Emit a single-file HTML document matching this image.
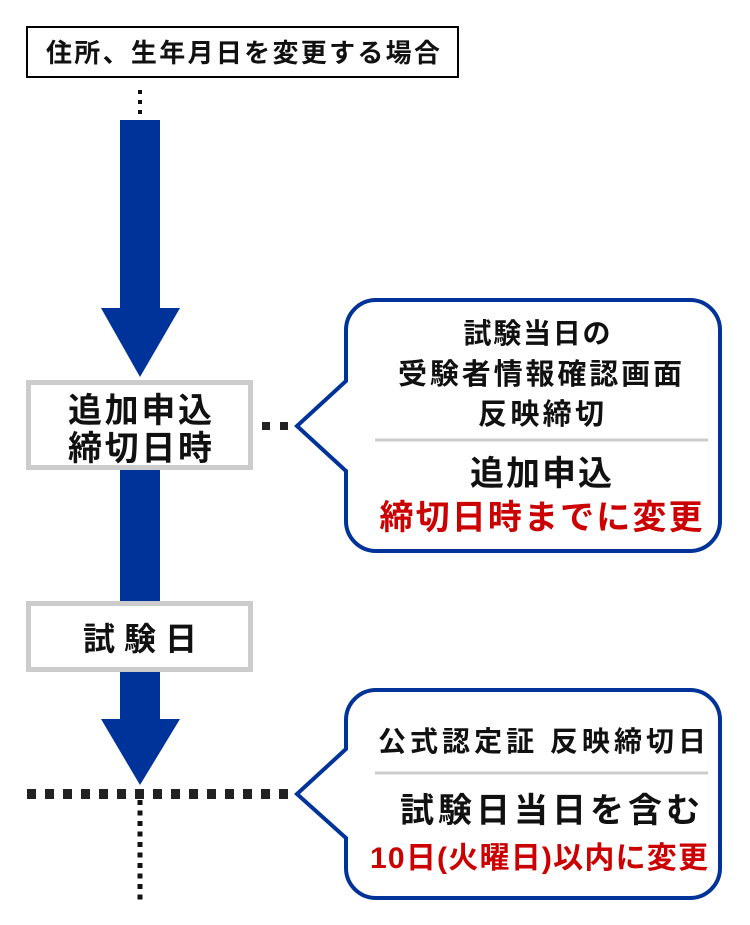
<!DOCTYPE html>
<html><head><meta charset="utf-8"><style>
html,body{margin:0;padding:0;background:#fff}
svg{display:block}
text{font-family:"Liberation Sans","Noto Sans CJK JP",sans-serif;font-weight:bold;text-anchor:middle}
</style></head><body>
<svg width="750" height="925" viewBox="0 0 750 925">
<rect x="27" y="27" width="431" height="50" fill="#fff" stroke="#000" stroke-width="2"/>
<text x="243" y="62" font-size="26" fill="#111" textLength="394" lengthAdjust="spacing">住所、生年月日を変更する場合</text>
<line x1="140" y1="90" x2="140" y2="118" stroke="#111" stroke-width="4" stroke-dasharray="4,6"/>
<polygon points="120,120 160,120 160,308 180,308 140,377 101,308 120,308" fill="#003399"/>
<rect x="120" y="468" width="40" height="135" fill="#003399"/>
<polygon points="120,670 160,670 160,719 180,719 140,785 101,719 120,719" fill="#003399"/>
<rect x="28.5" y="382.5" width="222" height="85" fill="#fff" stroke="#ccc" stroke-width="5"/>
<text x="140" y="422" font-size="34" fill="#111" textLength="144" lengthAdjust="spacing">追加申込</text>
<text x="140" y="460" font-size="34" fill="#111" textLength="144" lengthAdjust="spacing">締切日時</text>
<rect x="28.5" y="603.5" width="222" height="66" fill="#fff" stroke="#ccc" stroke-width="5"/>
<text x="140" y="650" font-size="32" fill="#111" textLength="114" lengthAdjust="spacing">試験日</text>
<line x1="262" y1="426" x2="292" y2="426" stroke="#222" stroke-width="8" stroke-dasharray="8,10"/>
<line x1="27" y1="794" x2="292" y2="794" stroke="#222" stroke-width="10" stroke-dasharray="9,9"/>
<line x1="140" y1="800" x2="140" y2="900" stroke="#111" stroke-width="5" stroke-dasharray="5,5.5"/>
<path d="M376,300 H690 A30,30 0 0 1 720,330 V521 A30,30 0 0 1 690,551 H376 A30,30 0 0 1 346,521 V471 L297,426 L346,381 V330 A30,30 0 0 1 376,300 Z" fill="#fff" stroke="#003399" stroke-width="4"/>
<text x="537" y="343" font-size="28" fill="#111" textLength="147" lengthAdjust="spacing">試験当日の</text>
<text x="540" y="384" font-size="29" fill="#111" textLength="284" lengthAdjust="spacing">受験者情報確認画面</text>
<text x="541" y="424" font-size="29" fill="#111" textLength="126" lengthAdjust="spacing">反映締切</text>
<line x1="375" y1="440" x2="708" y2="440" stroke="#ccc" stroke-width="3"/>
<text x="541" y="485" font-size="34" fill="#111" textLength="142" lengthAdjust="spacing">追加申込</text>
<text x="541" y="529" font-size="34" fill="#cc0000" textLength="323" lengthAdjust="spacing">締切日時までに変更</text>
<path d="M376,690 H690 A30,30 0 0 1 720,720 V868 A30,30 0 0 1 690,898 H376 A30,30 0 0 1 346,868 V838 L297,794 L346,749 V720 A30,30 0 0 1 376,690 Z" fill="#fff" stroke="#003399" stroke-width="4"/>
<text x="542" y="751" font-size="28" fill="#111" textLength="328" lengthAdjust="spacing">公式認定証 反映締切日</text>
<line x1="375" y1="773" x2="708" y2="773" stroke="#ccc" stroke-width="3"/>
<text x="550" y="822" font-size="34" fill="#111" textLength="300" lengthAdjust="spacing">試験日当日を含む</text>
<text x="539" y="868" font-size="30" fill="#cc0000" textLength="338" lengthAdjust="spacing">10日(火曜日)以内に変更</text>
</svg>
</body></html>
